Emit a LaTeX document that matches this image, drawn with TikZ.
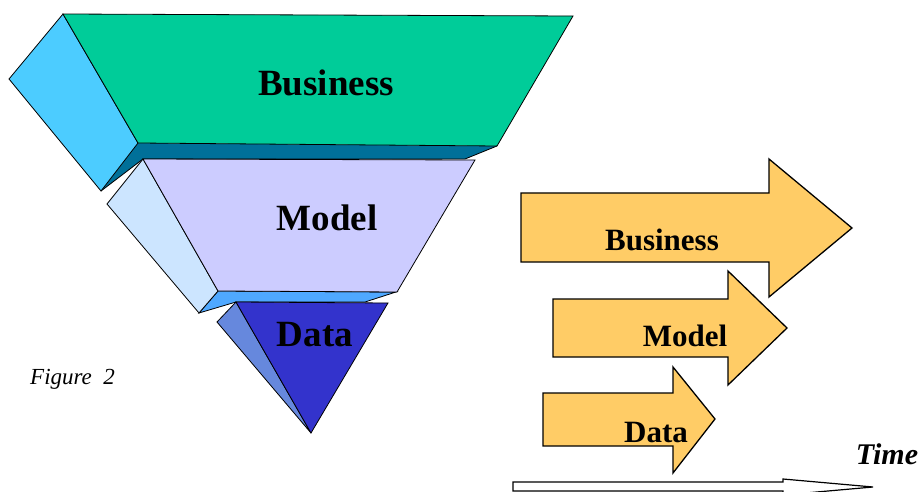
\documentclass[tikz,border=0pt]{standalone}
\usepackage{fontspec}
\setmainfont{Liberation Serif}
\begin{document}
\begin{tikzpicture}[x=1pt,y=-1pt,
  face/.style={draw=black,line width=0.8pt,line join=miter},
  arrowbody/.style={draw=black,fill=arrowyellow,line width=1.3pt,line join=miter},
  layerlabel/.style={font=\fontsize{37}{37}\selectfont\bfseries,inner sep=0pt},
  arrowlabel/.style={font=\fontsize{31}{31}\selectfont\bfseries,inner sep=0pt}]
\definecolor{bizgreen}{HTML}{00CC99}
\definecolor{bizside}{HTML}{4CCCFF}
\definecolor{bizbottom}{HTML}{007099}
\definecolor{modfront}{HTML}{CCCCFF}
\definecolor{modside}{HTML}{CCE5FF}
\definecolor{modbottom}{HTML}{4FA8FF}
\definecolor{datafront}{HTML}{3333CC}
\definecolor{dataside}{HTML}{6688DD}
\definecolor{arrowyellow}{HTML}{FFCC66}
\useasboundingbox (0,0) rectangle (922,492);

% --- inverted pyramid, top slab ---
\fill[bizbottom] (138,143) -- (497,146) -- (465,159) -- (143,159) -- (101,191) -- cycle;
\draw[face,fill=bizside] (63,14) -- (9,79) -- (101,191) -- (138,143) -- cycle;
\draw[face,fill=bizgreen] (63,14) -- (573,16) -- (497,146) -- (138,143) -- cycle;
\draw[line width=0.8pt] (101,191) -- (143,159) -- (465,159) -- (497,146);

% --- middle slab ---
\draw[face,fill=modbottom] (218,291) -- (396,292) -- (365,302) -- (236,302) -- (199,313) -- cycle;
\draw[face,fill=modside] (143,159) -- (107,204) -- (199,313) -- (218,291) -- cycle;
\draw[face,fill=modfront] (143,159) -- (475,160) -- (397,292) -- (218,291) -- cycle;

% --- bottom tip ---
\draw[face,fill=dataside] (236,302) -- (217,322) -- (311,433) -- cycle;
\draw[face,fill=datafront] (236,302) -- (388,303) -- (311,433) -- cycle;

\node[layerlabel] (pbiz) at (326,83) {Business};
\node[layerlabel] (pmod) at (327,218) {Model};
\node[layerlabel] (pdat) at (315,335) {Data};

\node[font=\fontsize{23}{23}\selectfont\itshape,inner sep=0pt,anchor=west] (fig) at (30,379) {Figure\ \ 2};

% --- time-line arrows ---
\draw[arrowbody] (521,193) -- (769,193) -- (769,159) -- (852,228) -- (769,297) -- (769,262) -- (521,262) -- cycle;
\draw[arrowbody] (553,299) -- (728,299) -- (728,271) -- (787,328) -- (728,385) -- (728,357) -- (553,357) -- cycle;
\draw[arrowbody] (543,393) -- (673,393) -- (673,367) -- (715,419) -- (673,473) -- (673,446) -- (543,446) -- cycle;

\node[arrowlabel] (abiz) at (662,240) {Business};
\node[arrowlabel] (amod) at (685,336) {Model};
\node[arrowlabel] (adat) at (656,433) {Data};

% --- time axis ---
\draw[draw=black,fill=white,line width=1.2pt,line join=miter]
  (513,482) -- (783,482) -- (783,479) -- (873,487) -- (783,495) -- (783,491) -- (513,491) -- cycle;
\node[font=\fontsize{30}{30}\selectfont\bfseries\itshape,inner sep=0pt] (time) at (887,454) {Time};
\end{tikzpicture}
\end{document}
